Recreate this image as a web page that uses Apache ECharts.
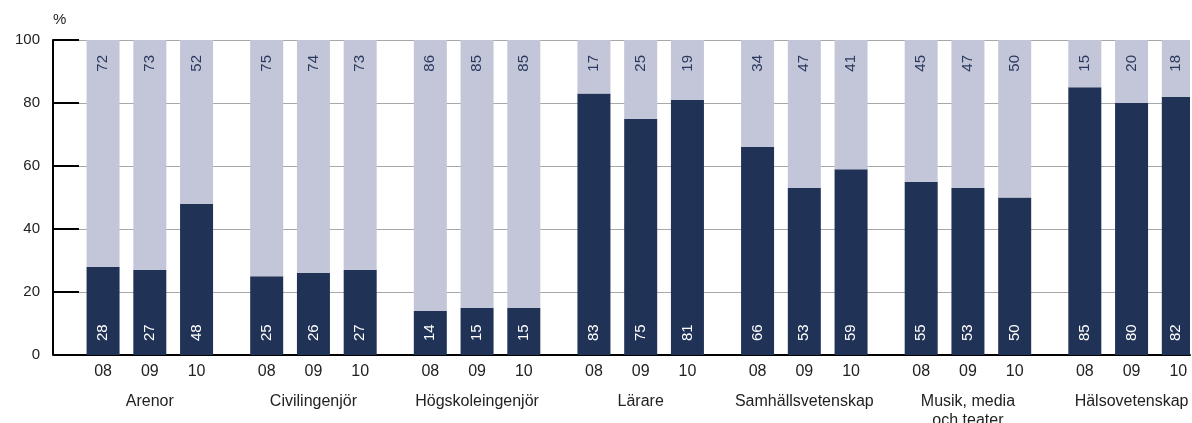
<!DOCTYPE html>
<html>
<head>
<meta charset="utf-8">
<script src="https://cdn.jsdelivr.net/npm/echarts@6/dist/echarts.min.js"></script>
<style>
html, body { margin: 0; padding: 0; background: #fff; }
#chart { width: 1192px; height: 423px; }
</style>
</head>
<body>
<div id="chart"></div>
<script>
// data
var groups = ['Arenor', 'Civilingenjör', 'Högskoleingenjör', 'Lärare', 'Samhällsvetenskap', 'Musik, media\noch teater', 'Hälsovetenskap'];
var years = ['08', '09', '10'];
var darkValues = [[28, 27, 48], [25, 26, 27], [14, 15, 15], [83, 75, 81], [66, 53, 59], [55, 53, 50], [85, 80, 82]];
var lightValues = [[72, 73, 52], [75, 74, 73], [86, 85, 85], [17, 25, 19], [34, 47, 41], [45, 47, 50], [15, 20, 18]];
var yTicks = [0, 20, 40, 60, 80, 100];

var FONT = 'Liberation Sans, Arial, sans-serif';
var DARK = '#203256';
var LIGHT = '#c3c6d8';

// slots: one leading blank, then per group bar,blank,bar,blank,bar (+2 blanks between groups)
var yearSlots = [], groupSlots = [], darkData = [], lightData = [];
function pushSlot(y, g, d, l) {
	yearSlots.push(y); groupSlots.push(g); darkData.push(d); lightData.push(l);
}
pushSlot('', '', '-', '-');
for (var g = 0; g < groups.length; g++) {
	for (var k = 0; k < years.length; k++) {
		pushSlot(years[k], k == 1 ? groups[g] : '', darkValues[g][k], lightValues[g][k]);
		if (k < years.length - 1) pushSlot('', '', '-', '-');
	}
	if (g < groups.length - 1) { pushSlot('', '', '-', '-'); pushSlot('', '', '-', '-'); }
}

var myChart = echarts.init(document.getElementById('chart'));
var option = {
	animation: false,
	textStyle: { fontFamily: FONT },
	grid: { left: 68, right: 2, top: 40, bottom: 68, outerBoundsMode: 'none', containLabel: false },
	xAxis: [
		{
			type: 'category',
			data: yearSlots,
			axisLine: { lineStyle: { color: '#000', width: 2 } },
			axisTick: { show: false },
			axisLabel: { interval: 0, fontSize: 16, color: '#222', margin: 9, fontFamily: FONT }
		},
		{
			type: 'category',
			data: groupSlots,
			position: 'bottom',
			offset: 30,
			axisLine: { show: false },
			axisTick: { show: false },
			axisLabel: { interval: 0, fontSize: 16, color: '#222', margin: 7, lineHeight: 19, fontFamily: FONT }
		}
	],
	yAxis: {
		type: 'value',
		min: yTicks[0],
		max: yTicks[yTicks.length - 1],
		interval: 20,
		offset: 15,
		name: '%',
		nameLocation: 'end',
		nameGap: 13,
		nameTextStyle: { align: 'left', fontSize: 15, color: '#222', fontFamily: FONT },
		axisLine: { show: true, lineStyle: { color: '#000', width: 2 } },
		axisTick: { show: true, inside: true, length: 26, lineStyle: { color: '#000', width: 2 } },
		axisLabel: { fontSize: 15, color: '#222', margin: 13, fontFamily: FONT },
		splitLine: { lineStyle: { color: '#a8a8a8', width: 1 } }
	},
	series: [
		{
			name: 'dark',
			type: 'bar',
			stack: 'a',
			barWidth: 33,
			data: darkData,
			itemStyle: { color: DARK },
			label: {
				show: true,
				position: 'insideBottom',
				distance: 14,
				rotate: 90,
				align: 'left',
				verticalAlign: 'middle',
				color: '#fff',
				fontSize: 15,
				fontFamily: FONT
			}
		},
		{
			name: 'light',
			type: 'bar',
			stack: 'a',
			barWidth: 33,
			data: lightData,
			itemStyle: { color: LIGHT },
			label: {
				show: true,
				position: 'insideTop',
				distance: 15,
				rotate: 90,
				align: 'right',
				verticalAlign: 'middle',
				color: '#2a3a5e',
				fontSize: 15,
				fontFamily: FONT
			}
		}
	]
};
myChart.setOption(option);
</script>
</body>
</html>
